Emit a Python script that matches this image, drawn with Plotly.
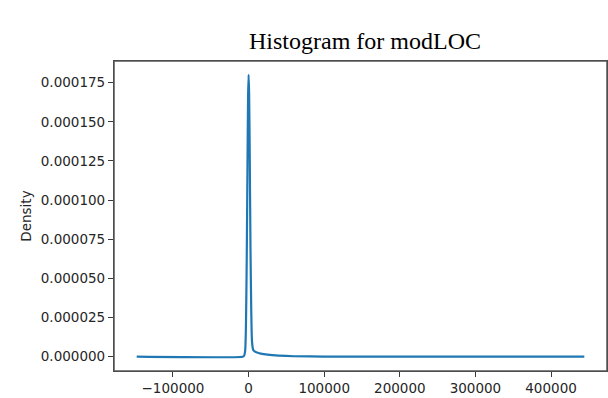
import plotly.graph_objects as go

# KDE curve points
x_vals = [-148000, -8000, -6000, -4500, -3500, -2500, -1500, -700, 0, 700, 1500, 2500,
          3500, 4500, 6000, 8000, 11000, 16000, 25000, 40000, 60000, 100000, 200000, 300000, 444000]
density = [0.0, 0.0, 0.0000005, 0.000004, 0.00002, 0.00006, 0.00012, 0.000165, 0.00018, 0.000168,
           0.00013, 0.00007, 0.00003, 0.00001, 0.0000045, 0.0000034, 0.0000027, 0.000002,
           0.0000013, 0.0000007, 0.0000003, 0.0000001, 0.00000004, 0.00000002, 0.0]

x_ticks = [-100000, 0, 100000, 200000, 300000, 400000]
x_tick_labels = ["\u2212100000", "0", "100000", "200000", "300000", "400000"]
y_ticks = [0, 0.000025, 0.00005, 0.000075, 0.0001, 0.000125, 0.00015, 0.000175]
y_tick_labels = ["0.000000", "0.000025", "0.000050", "0.000075",
                 "0.000100", "0.000125", "0.000150", "0.000175"]

fig = go.Figure()
fig.add_trace(go.Scatter(x=x_vals, y=density, mode="lines",
                         line=dict(color="#1f77b4", width=2.2, shape="spline", smoothing=0.6),
                         showlegend=False))

axis_common = dict(showgrid=False, zeroline=False, showline=True, linecolor="#3a3a3a",
                   linewidth=1.2, mirror=True, ticks="outside", ticklen=5, tickcolor="#3a3a3a",
                   automargin=False,
                   tickfont=dict(family="DejaVu Sans", size=13.5, color="#262626"))

# axes frame
fig.add_shape(type="rect", xref="paper", yref="paper", x0=0, y0=0, x1=1, y1=1,
              line=dict(color="#555555", width=1.5), layer="above")

fig.update_layout(
    width=608, height=398,
    margin=dict(l=114, r=1, t=61, b=27, autoexpand=False),
    paper_bgcolor="white", plot_bgcolor="white",
    title=dict(text="Histogram for modLOC", x=365 / 608, xref="container", xanchor="center",
               y=1 - 41 / 398, yref="container", yanchor="middle",
               font=dict(family="Liberation Serif", size=24, color="black")),
    xaxis=dict(range=[-178000, 474000], tickvals=x_ticks, ticktext=x_tick_labels, **axis_common),
    yaxis=dict(range=[-0.00000912, 0.0001888], tickvals=y_ticks, ticktext=y_tick_labels,
               title=dict(text="Density", standoff=6,
                          font=dict(family="DejaVu Sans", size=13.5, color="#262626")),
               **axis_common),
)

fig.write_html("out.html", config={"displayModeBar": False},
               post_script="document.body.style.margin='0';document.body.style.overflow='hidden';")
